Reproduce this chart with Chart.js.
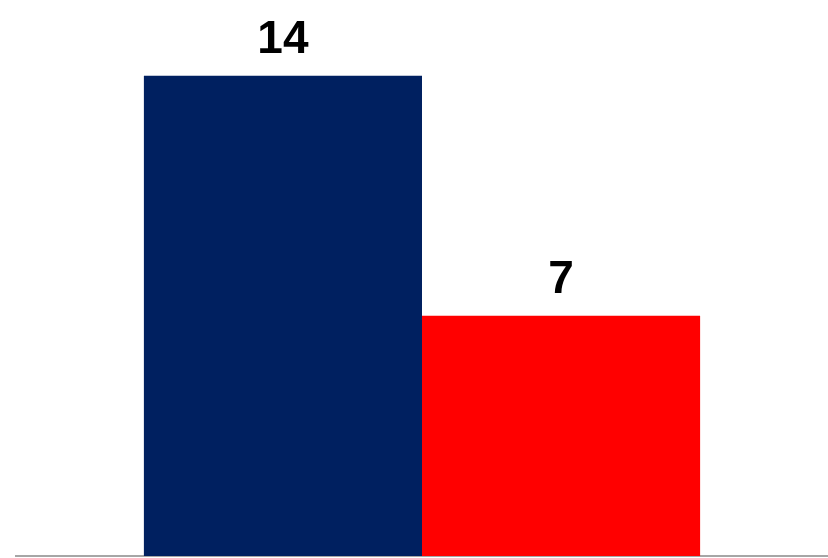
<!DOCTYPE html>
<html>
<head>
<meta charset="utf-8">
<script src="https://cdn.jsdelivr.net/npm/chart.js@4/dist/chart.umd.min.js"></script>
<style>
  html, body { margin: 0; padding: 0; background: #fff; }
  #wrap { width: 828px; height: 558px; }
</style>
</head>
<body>
<div id="wrap"><canvas id="grafico"></canvas></div>
<script>
// dados do gráfico
const categorias = [''];
const serieA = [14];
const serieB = [7];
const coresSeries = ['#002060', '#FF0000'];

// escreve o valor em cima de cada barra
const rotulosValor = {
  id: 'rotulosValor',
  afterDatasetsDraw(chart) {
    const ctx = chart.ctx;
    ctx.save();
    ctx.font = 'bold 46px "Liberation Sans", Arial, sans-serif';
    ctx.fillStyle = '#000';
    ctx.textAlign = 'center';
    ctx.textBaseline = 'alphabetic';
    chart.data.datasets.forEach((ds, i) => {
      chart.getDatasetMeta(i).data.forEach((bar, j) => {
        ctx.fillText(ds.data[j], bar.x, bar.y - 23);
      });
    });
    ctx.restore();
  }
};

new Chart(document.getElementById('grafico').getContext('2d'), {
  type: 'bar',
  data: {
    labels: categorias,
    datasets: [
      { data: serieA, backgroundColor: coresSeries[0] },
      { data: serieB, backgroundColor: coresSeries[1] }
    ]
  },
  options: {
    responsive: true,
    maintainAspectRatio: false,
    animation: false,
    layout: { padding: { left: 16, right: 0, top: 7, bottom: 0 } },
    plugins: { legend: { display: false }, tooltip: { enabled: false } },
    datasets: { bar: { barPercentage: 1, categoryPercentage: 0.685 } },
    scales: {
      x: {
        grid: { display: false },
        ticks: { display: false },
        border: { display: true, color: '#a6a6a6', width: 2 },
        afterFit(escala) { escala.height = 2; }
      },
      y: {
        display: false,
        min: 0,
        max: 16
      }
    }
  },
  plugins: [rotulosValor]
});
</script>
</body>
</html>
